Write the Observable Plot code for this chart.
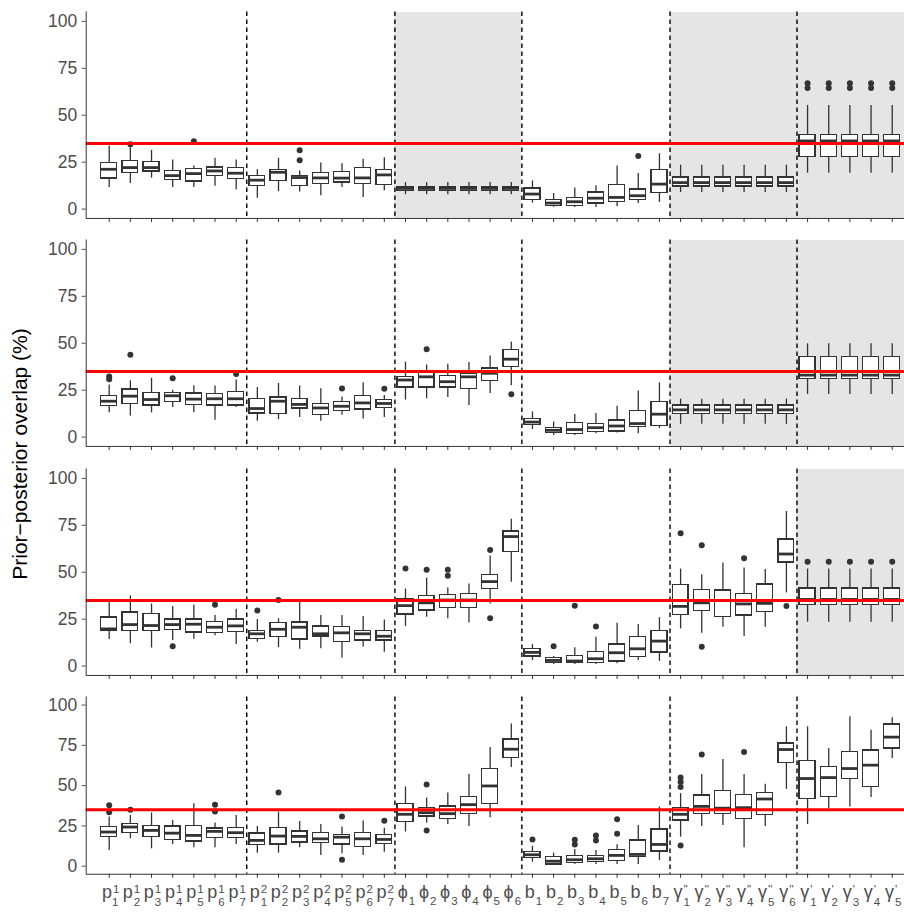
<!DOCTYPE html>
<html><head><meta charset="utf-8">
<script src="https://cdn.jsdelivr.net/npm/d3@7"></script>
<script src="https://cdn.jsdelivr.net/npm/@observablehq/plot@0.6"></script>
<style>
body{margin:0;background:#fff;}
#chart{position:relative;width:904px;height:913px;font-family:"Liberation Sans",Arial,sans-serif;overflow:hidden;}
#chart svg{position:absolute;left:0;}
#ytitle{position:absolute;left:20px;top:454px;transform:translate(-50%,-50%) rotate(-90deg);font-size:21px;white-space:nowrap;color:#000;}
</style></head><body>
<div id="chart"><div id="ytitle">Prior−posterior overlap (%)</div></div>
<script>
const categories = ["p1_1","p2_1","p3_1","p4_1","p5_1","p6_1","p7_1","p1_2","p2_2","p3_2","p4_2","p5_2","p6_2","p7_2","phi1","phi2","phi3","phi4","phi5","phi6","b1","b2","b3","b4","b5","b6","b7","gpp1","gpp2","gpp3","gpp4","gpp5","gpp6","gp1","gp2","gp3","gp4","gp5"];
const labelBase = ["p","p","p","p","p","p","p","p","p","p","p","p","p","p","ϕ","ϕ","ϕ","ϕ","ϕ","ϕ","b","b","b","b","b","b","b","γ","γ","γ","γ","γ","γ","γ","γ","γ","γ","γ"];
const labelSub = ["1","2","3","4","5","6","7","1","2","3","4","5","6","7","1","2","3","4","5","6","1","2","3","4","5","6","7","1","2","3","4","5","6","1","2","3","4","5"];
const labelSup = ["1","1","1","1","1","1","1","2","2","2","2","2","2","2","","","","","","","","","","","","","","''","''","''","''","''","''","'","'","'","'","'"];
const groupNames = ["p1","p2","phi","b","gpp","gp"];
const groupSizes = [7,7,6,7,6,5];
const threshold = 35;
const yTicks = [0,25,50,75,100];

// [lower whisker, q1, median, q3, upper whisker]
const statsP1 = [
[11.5,16.3,21.2,24.6,33.6],[13.6,19.4,22.1,25.5,32.7],[16.5,20,22.1,25,31.3],[11.5,15.4,17.8,20.3,26.2],[11.5,14.7,18.9,21.2,23],[12.2,17.7,20.3,22.1,27.1],[10.1,15.9,19.1,21.8,26.2],
[5.8,12.4,15.4,17.7,21],[9.3,15,19.6,21,27.1],[9.1,12.4,16.8,17.7,20.3],[7.1,13.3,16.6,19.4,24.6],[11.5,14.1,16.5,19.9,24.2],[6.2,13.3,16.6,21.8,26.6],[9.7,12.9,18.2,20.7,27.4],
[7.6,9.7,11,11.8,14.1],[7.6,9.7,11,11.8,14.1],[7.6,9.7,11,11.8,14.1],[7.6,9.7,11,11.8,14.1],[7.6,9.7,11,11.8,14.1],[7.6,9.7,11,11.8,14.1],
[3.2,4.9,8,10.9,15],[0.9,1.8,3.2,4.8,8.3],[0.9,1.8,3.9,5.8,11.2],[0.9,3,5.8,8.8,12.4],[1.2,3.7,6.2,12.7,23],[3,4.8,7.1,10.4,18.9],[3.5,8.5,13.3,20.7,29.5],
[8.8,12,14.1,16.8,23.4],[8.8,12,14.1,16.8,23.4],[8.8,12,14.1,16.8,23.4],[8.8,12,14.1,16.8,23.4],[8.8,12,14.1,16.8,23.4],[8.8,12,14.1,16.8,23.4],
[19.1,27.8,36.3,39.3,55.2],[19.1,27.8,36.3,39.3,55.2],[19.1,27.8,36.3,39.3,55.2],[19.1,27.8,36.3,39.3,55.2],[19.1,27.8,36.3,39.3,55.2]];
const outliersP1 = [["p2_1",34.5],["p5_1",36.1],["p3_2",31.3],["p3_2",26],["b6",28.3],
["gp1",67],["gp1",64.5],["gp2",67],["gp2",64.5],["gp3",67],["gp3",64.5],["gp4",67],["gp4",64.5],["gp5",67],["gp5",64.5]];

const statsP2 = [
[12.9,16.6,19.1,21.8,27.7],[11.2,17.5,21.8,25.4,30],[12.9,16.8,20,23.6,31.3],[15.7,18.7,22,23.4,25],[12.9,17,20.2,23.2,27.3],[8.9,16.8,20.4,22.9,27.2],[15.7,16.8,20.4,24.1,30.4],
[8.4,12.5,15.2,20.4,26.4],[9.3,12.2,19.1,21.1,28.6],[10.4,15.2,17.4,20.4,27.2],[8.4,11.6,15.5,17.7,25.7],[11.6,13.9,16.4,18.7,21.4],[9.6,14.7,18.2,21.8,28.9],[10.4,15.5,17.9,19.7,22.2],
[19.7,26.4,30.4,32.1,39.9],[20.4,26.4,32.1,34.3,38.4],[21.1,26.4,29.5,32.5,38.8],[16.8,25.7,32.1,33.6,39.7],[23.2,29.8,34,36.6,43.2],[27.3,37.2,41.5,46.4,50.6],
[4,6.6,8,9.6,13.4],[0.9,2,3.6,5,8],[0.9,1.8,4,7.5,12],[1.8,2.7,5,7,12.5],[2.1,3,5.9,8.9,16.4],[1.8,5.4,7.2,13.8,24.5],[4.5,5.9,12.2,18.7,28.9],
[6.8,12.2,14.5,16.8,20.2],[6.8,12.2,14.5,16.8,20.2],[6.8,12.2,14.5,16.8,20.2],[6.8,12.2,14.5,16.8,20.2],[6.8,12.2,14.5,16.8,20.2],[6.8,12.2,14.5,16.8,20.2],
[22.7,30.9,33,42.8,49.7],[22.7,30.9,33,42.8,49.7],[22.7,30.9,33,42.8,49.7],[22.7,30.9,33,42.8,49.7],[22.7,30.9,33,42.8,49.7]];
const outliersP2 = [["p1_1",32.3],["p1_1",30.8],["p2_1",43.9],["p4_1",31.3],["p7_1",33.6],["p5_2",25.9],["p7_2",25.7],["phi2",46.8],["phi6",22.8]];

const statsP3 = [
[14.2,18.6,19.8,25.8,34],[11.9,18.6,22.1,28.5,37.4],[9.6,18.6,21.6,27.6,33.1],[13.6,19.1,22.1,24.8,31.7],[14.3,17.9,22.3,24.8,32.4],[16.1,17.5,20.7,23.4,26.9],[11.5,18.3,21.4,24.8,30.3],
[12.7,14.5,17.2,18.8,24.8],[9.8,15.4,19.6,22.8,25.2],[8.9,14.2,20.7,23.2,34],[9.2,15.8,17.2,21.1,26.9],[4.2,13,17.7,20.7,26.9],[10.1,13.6,17.2,18.8,26.4],[7.4,13.6,15.9,18.6,24.6],
[21.1,27.4,32.2,35.8,41.1],[26,29.6,33.7,37.4,46.9],[25.2,30.8,35.2,37.7,41.6],[23,30.8,35.2,38.4,43.7],[33.1,41.1,45,48.7,58.6],[44.6,60.9,69,71.7,78.2],
[3,5.1,7.3,9,11.4],[0.9,1.8,3,4.2,5.1],[0.9,1.6,2.7,5.3,9.8],[0.9,1.6,3.9,7.4,15.4],[1.3,2.5,7.1,11.5,22.8],[3,4.8,9.2,15.6,22.1],[2.5,7.3,13.3,18.6,25.8],
[19.8,27.3,31.8,43.2,51.7],[17.5,29.2,33.7,40.6,48.7],[20.7,26,35,40.2,54.9],[15.8,26.9,33.1,38.4,52.2],[20.7,28.9,33.4,43.4,51.5],[39,55.2,59.7,67.4,82.3],
[23.4,32.7,35.5,41.4,51.7],[23.4,32.7,35.5,41.4,51.7],[23.4,32.7,35.5,41.4,51.7],[23.4,32.7,35.5,41.4,51.7],[23.4,32.7,35.5,41.4,51.7]];
const outliersP3 = [["p4_1",10.5],["p6_1",32.7],["p1_2",29.6],["p2_2",35.2],["phi1",52],["phi2",51.3],["phi3",51.3],["phi3",48.1],["phi5",61.9],["phi5",25.5],
["b2",10.5],["b3",32.2],["b4",21.1],["gpp1",70.8],["gpp2",64.4],["gpp2",10.3],["gpp4",57.5],["gpp6",32],
["gp1",55.6],["gp2",55.6],["gp3",55.6],["gp4",55.6],["gp5",55.6]];

const statsP4 = [
[9.8,18,21.2,24.3,30.5],[17,20.5,24.3,26.4,31.5],[10.8,18,22.2,25.1,33],[13.5,16.4,20.5,24.7,28.4],[11.4,15.4,19.1,25.1,38.8],[11.4,17.7,21.6,23.3,26.8],[13.5,17.7,20.8,23.9,31.5],
[8.1,13.3,16,20.2,24.7],[8.1,13.5,18.7,23.9,33.6],[11.4,14.7,18.5,21.6,27.8],[6.7,14.3,17,20.5,25.8],[7.7,13.5,18,19.3,24.3],[6.7,11.8,17,20.5,28],[8.7,13.9,16.6,19.3,23.6],
[21.2,27.4,32.2,38.8,49.2],[26.8,30.9,33.2,36.3,42.3],[25.9,29.2,32.6,37.1,45.4],[24.7,32.6,38.2,42.9,57.1],[30.1,38.8,49.8,60.4,73.7],[61.2,67.2,72.6,78.7,88.2],
[2.5,5,7.1,8.7,12.4],[0.4,1.1,3.1,5.6,8.1],[1.1,1.9,4,6.5,10.4],[1.1,2.5,4.6,6.3,9.8],[1.1,3.1,6.7,10.2,13.3],[1.1,5.6,7.3,16,25.3],[3.5,9.1,13.5,22.8,36.7],
[18,28.4,32.2,36.3,45],[24.7,32.6,37.1,43.8,56.9],[25.3,32.6,36,46.5,66.2],[11.4,29.5,36.3,44.2,56.9],[24.7,31.7,41.7,45.4,50.8],[47.7,64.1,72.4,76.2,86.5],
[25.9,41.5,54.4,65.3,86.5],[35.7,42.9,55,61.6,73],[36.7,54,60.6,70.8,92.7],[42.6,49.2,62.7,71.8,84.4],[66.8,73,80.1,88,92.1]];
const outliersP4 = [["p1_1",37.8],["p1_1",33.4],["p2_1",35.1],["p6_1",38.2],["p6_1",34],["p2_2",45.7],["p5_2",30.9],["p5_2",4],["p7_2",28.2],
["phi2",50.7],["phi2",22.2],["b1",16.6],["b3",16.4],["b3",13.5],["b4",19.1],["b4",16],["b5",29.1],["b5",20.2],
["gpp1",55],["gpp1",52.3],["gpp1",49.2],["gpp1",12.9],["gpp2",69.3],["gpp4",70.9]];

const shadeP1 = ["phi","gpp","gp"];
const shadeP2 = ["gpp","gp"];
const shadeP3 = ["gp"];
const shadeP4 = [];

// ---- layout ----
const W = 904, H = 913/4;
const xDomain = [1 - 1.087, categories.length + 0.58];
const yDomain = [-5, 105];
const font = "Liberation Sans, Arial, sans-serif";
const textGrey = "#4d4d4d";

const groupExt = [];
{ let s = 1; groupNames.forEach((g, k) => { groupExt.push({name: g, x1: s - 0.5, x2: s + groupSizes[k] - 0.5}); s += groupSizes[k]; }); }
const dividers = groupExt.slice(1).map(g => g.x1);
const tickIdx = categories.map((c, k) => k + 1);

function panel(stats, outs, shade, top, bottomLabels) {
  const rows = categories.map((id, k) => ({i: k + 1, lo: stats[k][0], q1: stats[k][1], med: stats[k][2], q3: stats[k][3], hi: stats[k][4]}));
  const outRows = outs.map(([id, v]) => ({i: categories.indexOf(id) + 1, v}));
  const shadeRows = groupExt.filter(g => shade.includes(g.name)).map(g => ({x1: g.x1, x2: g.name === groupNames[groupNames.length - 1] ? xDomain[1] : g.x2}));
  const bw = 0.375;
  const lab = categories.map((c, k) => ({i: k + 1, base: labelBase[k], sub: labelSub[k], sup: labelSup[k]}));
  const marks = [
    Plot.rect(shadeRows, {x1: "x1", x2: "x2", fill: "#e5e5e5"}),
    Plot.ruleX(dividers, {stroke: "#000", strokeWidth: 1.4, strokeDasharray: "4.5,3.5"}),
    Plot.ruleX(rows, {x: "i", y1: "lo", y2: "hi", stroke: "#333", strokeWidth: 1.3}),
    Plot.rect(rows, {x1: d => d.i - bw, x2: d => d.i + bw, y1: "q1", y2: "q3", fill: "#fff", stroke: "#333", strokeWidth: 1.3}),
    Plot.ruleY(rows, {x1: d => d.i - bw, x2: d => d.i + bw, y: "med", stroke: "#333", strokeWidth: 2.8}),
    Plot.dot(outRows, {x: "i", y: "v", r: 3, fill: "#333", stroke: null}),
    Plot.ruleY([threshold], {stroke: "#ff0000", strokeWidth: 3}),
    Plot.ruleY([yDomain[0]], {stroke: "#333", strokeWidth: 1}),
    Plot.ruleX([xDomain[0]], {stroke: "#333", strokeWidth: 1}),
    Plot.axisY(yTicks, {tickSize: 4, tickPadding: 5, fontSize: 17.5, color: textGrey, label: null}),
    Plot.axisX(tickIdx, {tickSize: 4, tickFormat: () => "", color: "#333", label: null})
  ];
  if (bottomLabels) {
    marks.push(Plot.text(lab, {x: "i", text: "base", frameAnchor: "bottom", textAnchor: "middle", lineAnchor: "bottom", dx: 1, dy: 23.5, fontSize: 18, fill: textGrey}));
  }
  const svg = Plot.plot({
    width: W, height: H,
    marginLeft: 85.7, marginRight: 0, marginTop: 11.5, marginBottom: bottomLabels ? 39.5 : 10.3,
    x: {type: "linear", domain: xDomain, axis: null},
    y: {type: "linear", domain: yDomain, axis: null},
    style: {fontFamily: font, background: "transparent", overflow: "visible"},
    marks
  });
  svg.style.top = top + "px";
  svg.querySelectorAll("rect").forEach(r => r.setAttribute("shape-rendering", "crispEdges"));
  document.getElementById("chart").appendChild(svg);
  if (bottomLabels) {
    const NS = "http://www.w3.org/2000/svg";
    const groups = svg.querySelectorAll('g[aria-label="text"]');
    const g = groups[groups.length - 1];
    g.querySelectorAll("text").forEach((t, k) => {
      const d = lab[k];
      t.textContent = d.base;
      let w = 0;
      if (d.sup) {
        const s = document.createElementNS(NS, "tspan");
        s.textContent = d.sup;
        s.setAttribute("font-size", "11.5");
        s.setAttribute("dx", "1");
        s.setAttribute("dy", "-5");
        t.appendChild(s);
        w = s.getComputedTextLength();
      }
      const b = document.createElementNS(NS, "tspan");
      b.textContent = d.sub;
      b.setAttribute("font-size", "11.5");
      b.setAttribute("dx", d.sup ? String(-w) : "1");
      b.setAttribute("dy", d.sup ? "13" : "7");
      t.appendChild(b);
    });
  }
}

panel(statsP1, outliersP1, shadeP1, 0, false);
panel(statsP2, outliersP2, shadeP2, H, false);
panel(statsP3, outliersP3, shadeP3, 2 * H, false);
panel(statsP4, outliersP4, shadeP4, 3 * H, true);
</script>
</body></html>
